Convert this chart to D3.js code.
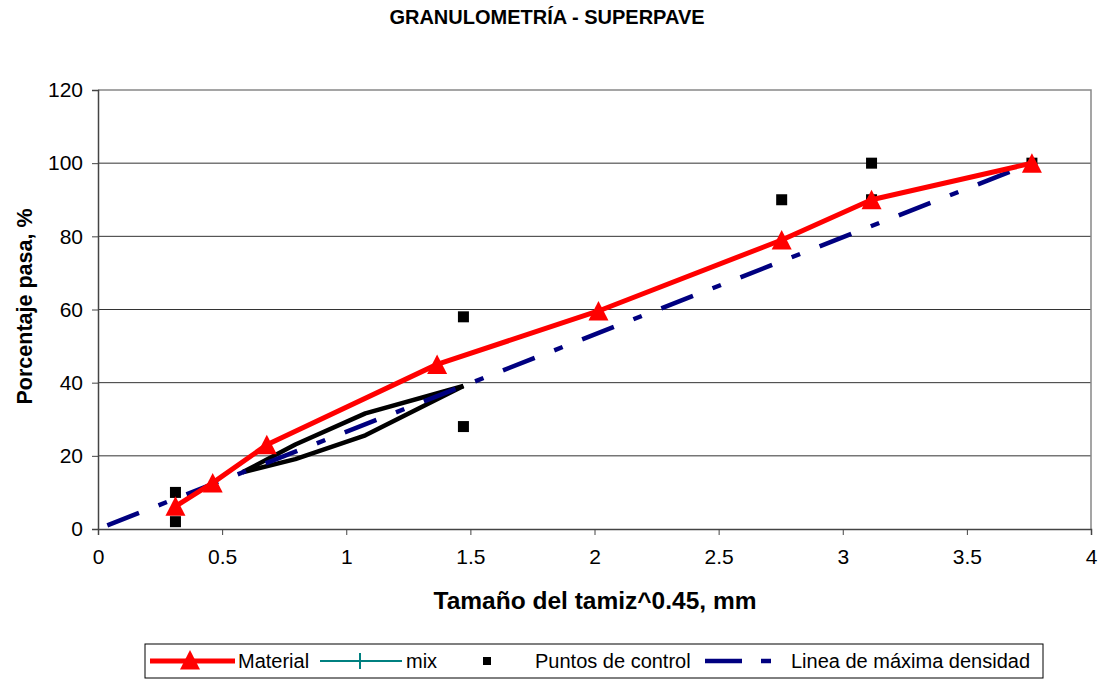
<!DOCTYPE html>
<html>
<head>
<meta charset="utf-8">
<script src="https://cdn.jsdelivr.net/npm/d3@7"></script>
<style>
  html, body { margin: 0; padding: 0; background: #fff; }
  svg { display: block; font-family: "Liberation Sans", Arial, sans-serif; }
</style>
</head>
<body>
<svg id="chart" width="1102" height="679"></svg>
<script>
// Sieve openings raised to 0.45 (x axis) and percent passing
const sieveX = [0.312, 0.462, 0.680, 1.366, 2.016, 2.754, 3.116, 3.762];
const material = [6.2, 12.6, 23, 45, 59.6, 79, 90, 100];

// Control points (x, % passing)
const controlX = [0.312, 0.312, 1.472, 1.472, 2.754, 3.116, 3.116, 3.762];
const controlY = [2, 10, 28, 58, 90, 90, 100, 100];

// Restricted zone boundaries
const zoneX = [0.582, 0.795, 1.077, 1.472];
const zoneLower = [15.5, 19.1, 25.6, 39.1];
const zoneUpper = [15.5, 23.1, 31.6, 39.1];

// Maximum density line
const maxDensX = [0, 3.762];
const maxDensY = [0, 100];

// Axis ticks
const xTicks = [0, 0.5, 1, 1.5, 2, 2.5, 3, 3.5, 4];
const yTicks = [0, 20, 40, 60, 80, 100, 120];

const svg = d3.select("#chart");
const plotL = 98, plotR = 1091, plotT = 90, plotB = 529;

const x = d3.scaleLinear().domain([0, 4]).range([plotL, plotR]);
const y = d3.scaleLinear().domain([0, 120]).range([plotB, plotT]);

// Title
svg.append("text")
  .attr("x", 547).attr("y", 24)
  .attr("text-anchor", "middle")
  .attr("font-size", 20).attr("font-weight", "bold")
  .text("GRANULOMETRÍA - SUPERPAVE");

// Horizontal gridlines
svg.append("g").selectAll("line")
  .data(yTicks.filter(d => d > 0 && d < 120))
  .join("line")
  .attr("x1", plotL).attr("x2", plotR)
  .attr("y1", d => y(d)).attr("y2", d => y(d))
  .attr("stroke", "#333").attr("stroke-width", 1);

// Plot frame (top and right)
svg.append("path")
  .attr("d", `M${plotL},${plotT}H${plotR}V${plotB}`)
  .attr("fill", "none").attr("stroke", "#888").attr("stroke-width", 1.5);

// Axes
const xAxis = d3.axisBottom(x).tickValues(xTicks).tickSize(6).tickPadding(14)
  .tickFormat(d3.format("~g"));
const yAxis = d3.axisLeft(y).tickValues(yTicks).tickSize(6).tickPadding(10);

const gx = svg.append("g").attr("transform", `translate(0,${plotB})`).call(xAxis);
const gy = svg.append("g").attr("transform", `translate(${plotL},0)`).call(yAxis);
[gx, gy].forEach(g => {
  g.select(".domain").attr("stroke", "#444").attr("stroke-width", 1.5);
  g.selectAll(".tick line").attr("stroke", "#444");
  g.selectAll(".tick text").attr("font-size", 21).attr("fill", "#000")
    .attr("font-family", "'Liberation Sans', Arial, sans-serif");
});
gy.selectAll(".tick text").attr("x", -15);

// Axis titles
svg.append("text")
  .attr("x", 595).attr("y", 609)
  .attr("text-anchor", "middle")
  .attr("font-size", 24.5).attr("font-weight", "bold")
  .text("Tamaño del tamiz^0.45, mm");

svg.append("text")
  .attr("transform", `translate(32,${(plotT + plotB) / 2 - 3}) rotate(-90)`)
  .attr("text-anchor", "middle")
  .attr("font-size", 21.5).attr("font-weight", "bold")
  .text("Porcentaje pasa, %");

const line = d3.line().x(d => x(d[0])).y(d => y(d[1]));

// Restricted zone
[zoneLower, zoneUpper].forEach(vals => {
  svg.append("path")
    .attr("d", line(zoneX.map((v, i) => [v, vals[i]])))
    .attr("fill", "none").attr("stroke", "#000").attr("stroke-width", 4.5)
    .attr("stroke-linejoin", "round");
});

// Maximum density line
svg.append("path")
  .attr("d", line(maxDensX.map((v, i) => [v, maxDensY[i]])))
  .attr("fill", "none").attr("stroke", "#000080").attr("stroke-width", 4.5)
  .attr("stroke-dasharray", "34 21 9 21")
  .attr("stroke-dashoffset", 75);

// Control points
svg.append("g").selectAll("rect")
  .data(controlX.map((v, i) => [v, controlY[i]]))
  .join("rect")
  .attr("x", d => x(d[0]) - 5.5).attr("y", d => y(d[1]) - 5.5)
  .attr("width", 11).attr("height", 11).attr("fill", "#000");

// Material gradation
const matPts = sieveX.map((v, i) => [v, material[i]]);
svg.append("path")
  .attr("d", line(matPts))
  .attr("fill", "none").attr("stroke", "#ff0000").attr("stroke-width", 5)
  .attr("stroke-linejoin", "round");

const tri = "M0,-10L10,9.5L-10,9.5Z";
svg.append("g").selectAll("path")
  .data(matPts)
  .join("path")
  .attr("d", tri)
  .attr("transform", d => `translate(${x(d[0])},${y(d[1])})`)
  .attr("fill", "#ff0000");

// Legend
const lg = svg.append("g").attr("font-size", 20);
lg.append("rect")
  .attr("x", 145).attr("y", 644).attr("width", 898).attr("height", 34)
  .attr("fill", "#fff").attr("stroke", "#000").attr("stroke-width", 1);

const ly = 661, lty = 668;
lg.append("line").attr("x1", 150).attr("x2", 235).attr("y1", ly).attr("y2", ly)
  .attr("stroke", "#ff0000").attr("stroke-width", 5);
lg.append("path").attr("d", tri).attr("transform", `translate(190,${ly - 1})`).attr("fill", "#ff0000");
lg.append("text").attr("x", 238).attr("y", lty).text("Material");

lg.append("line").attr("x1", 320).attr("x2", 402).attr("y1", ly).attr("y2", ly)
  .attr("stroke", "#008080").attr("stroke-width", 2);
lg.append("line").attr("x1", 360).attr("x2", 360).attr("y1", ly - 8).attr("y2", ly + 8)
  .attr("stroke", "#008080").attr("stroke-width", 2);
lg.append("text").attr("x", 406).attr("y", lty).text("mix");

lg.append("rect").attr("x", 483).attr("y", ly - 4).attr("width", 8).attr("height", 8).attr("fill", "#000");
lg.append("text").attr("x", 535).attr("y", lty).text("Puntos de control");

lg.append("line").attr("x1", 705).attr("x2", 742).attr("y1", ly).attr("y2", ly)
  .attr("stroke", "#000080").attr("stroke-width", 4.5);
lg.append("line").attr("x1", 761).attr("x2", 771).attr("y1", ly).attr("y2", ly)
  .attr("stroke", "#000080").attr("stroke-width", 4.5);
lg.append("text").attr("x", 791).attr("y", lty).text("Linea de máxima densidad");
</script>
</body>
</html>
